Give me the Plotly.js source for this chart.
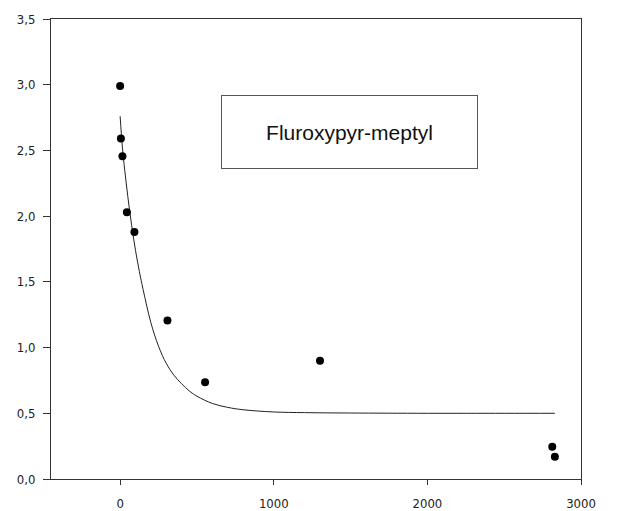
<!DOCTYPE html>
<html>
<head>
<meta charset="utf-8">
<script src="https://cdn.plot.ly/plotly-3.0.1.min.js"></script>
<style>html,body{margin:0;padding:0;background:#fff;}#chart{width:620px;height:511px;}</style>
</head>
<body>
<div id="chart"></div>
<script>
// Measured data points (time vs concentration)
var pointsX = [0, 5, 15, 44, 93, 308, 553, 1301, 2813, 2830];
var pointsY = [2.99, 2.59, 2.455, 2.03, 1.88, 1.206, 0.737, 0.899, 0.246, 0.17];

// Fitted curve
var curveX = [0, 15, 30, 50, 75, 100, 125, 150, 200, 250, 300, 350, 400, 450, 500, 600, 700, 800, 1000, 1200, 1500, 2000, 2500, 2830];
var curveY = [2.76, 2.52, 2.35, 2.15, 1.93, 1.74, 1.58, 1.44, 1.19, 1.01, 0.88, 0.79, 0.725, 0.67, 0.63, 0.575, 0.545, 0.527, 0.51, 0.505, 0.502, 0.50, 0.50, 0.50];

var labelText = "Fluroxypyr-meptyl";
var labelX = 1496;
var labelY = 2.64;

var tickFont = {family: "Liberation Sans Narrow, DejaVu Sans Condensed, Arial, sans-serif", size: 13, color: "#222"};

var data = [
  {x: curveX, y: curveY, mode: "lines", type: "scatter", line: {color: "#222", width: 1, shape: "spline", smoothing: 1}, hoverinfo: "skip"},
  {x: pointsX, y: pointsY, mode: "markers", type: "scatter", marker: {color: "#000", size: 8}}
];

var layout = {
  width: 620, height: 511,
  margin: {l: 51, r: 39, t: 19, b: 32, pad: 0},
  paper_bgcolor: "#fff", plot_bgcolor: "#fff",
  showlegend: false,
  separators: ", ",
  xaxis: {
    range: [-450, 3000], tickvals: [0, 1000, 2000, 3000], ticktext: ["0", "1000", "2000", "3000"],
    showgrid: false, zeroline: false, showline: true, mirror: true, linecolor: "#333", linewidth: 1,
    ticks: "outside", ticklen: 5, tickcolor: "#333", tickfont: tickFont, ticklabelstandoff: 7
  },
  yaxis: {
    range: [0, 3.5], tickvals: [0, 0.5, 1, 1.5, 2, 2.5, 3, 3.5], tickformat: ".1f",
    showgrid: false, zeroline: false, showline: true, mirror: true, linecolor: "#333", linewidth: 1,
    ticks: "outside", ticklen: 7, tickcolor: "#333", tickfont: tickFont, ticklabelstandoff: 5
  },
  annotations: [{
    x: labelX, y: labelY, xref: "x", yref: "y", text: labelText, showarrow: false,
    font: {family: "Liberation Sans, Arial, sans-serif", size: 21, color: "#111"},
    width: 255, height: 72, borderpad: 0, borderwidth: 1, bordercolor: "#555", bgcolor: "#fff",
    align: "center", valign: "middle"
  }]
};

Plotly.newPlot("chart", data, layout, {displayModeBar: false, staticPlot: true});
</script>
</body>
</html>
